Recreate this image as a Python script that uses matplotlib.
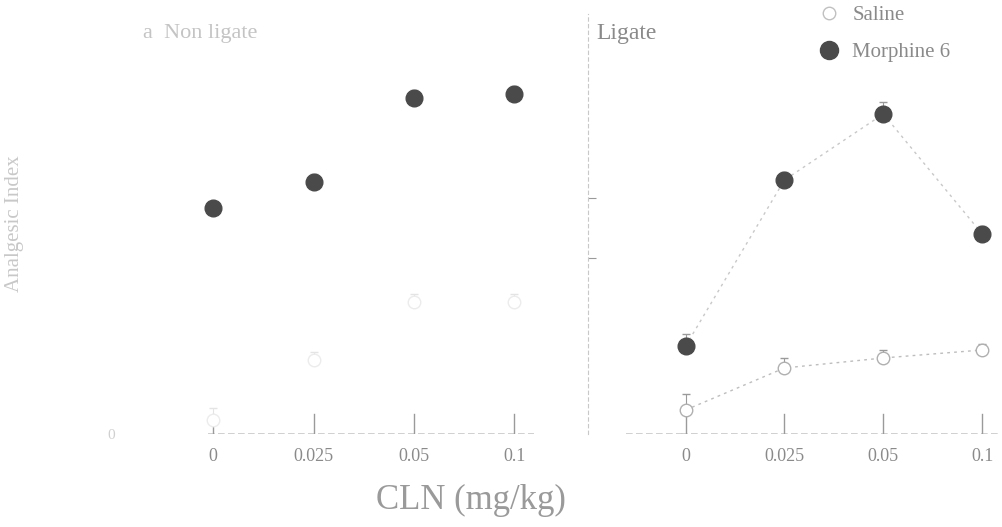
import matplotlib
matplotlib.use("Agg")
import matplotlib.pyplot as plt
from matplotlib.lines import Line2D
import numpy as np

plt.rcParams['font.family'] = ['Liberation Serif', 'DejaVu Serif']

doses = ["0", "0.025", "0.05", "0.1"]
xpos = np.arange(len(doses))

# non ligated panel
nl_morphine = [0.565, 0.63, 0.84, 0.85]
nl_morphine_err = [0.015, 0.02, 0.02, 0.02]
nl_saline = [0.035, 0.185, 0.33, 0.33]
nl_saline_err = [0.03, 0.02, 0.02, 0.02]

# ligated panel
l_morphine = [0.22, 0.635, 0.80, 0.50]
l_morphine_err = [0.03, 0.02, 0.03, 0.02]
l_saline = [0.06, 0.165, 0.19, 0.21]
l_saline_err = [0.04, 0.025, 0.02, 0.015]

dark = "#4a4a4a"
faint = "#c8c8c8"
mid = "#9a9a9a"

fig = plt.figure(figsize=(10.03, 5.27), dpi=100)
ax1 = fig.add_axes([0.1196, 0.1765, 0.424, 0.797])
ax2 = fig.add_axes([0.586, 0.1765, 0.411, 0.797])

def style(ax, xl):
    ax.set_xlim(*xl)
    ax.set_ylim(0, 1.05)
    for s in ["top", "right", "bottom"]:
        ax.spines[s].set_visible(False)
    ax.set_xticks(xpos)
    ax.set_xticklabels(doses, fontsize=13, color="#8a8a8a")
    ax.tick_params(axis="x", length=0, pad=10)
    # baseline with upward ticks
    ax.plot([xpos[0] - 0.05, xpos[-1] + 0.2], [0, 0], color=faint, lw=1.2, ls=(0, (4, 2)))
    for x in xpos:
        ax.plot([x, x], [0, 0.05], color=mid, lw=1)

style(ax1, (-0.93, 3.31))
style(ax2, (-0.99, 3.18))
ax2.plot([-0.6, 0], [0, 0], color=faint, lw=1.2, ls=(0, (4, 2)))

ax1.spines["left"].set_visible(False)
ax1.set_yticks([0])
ax1.set_yticklabels(["0"], fontsize=11, color="#d0d0d0")
ax1.tick_params(axis="y", length=0)
ax1.set_ylabel("Analgesic Index", fontsize=15, color="#c8c8c8", labelpad=60)

ax2.spines["left"].set_color(faint)
ax2.spines["left"].set_linestyle((0, (3, 3)))
ax2.set_yticks([0.44, 0.59])
ax2.set_yticklabels([])
ax2.tick_params(axis="y", direction="in", length=6, color=mid)

# non ligated
ax1.errorbar(xpos, nl_saline, yerr=[np.zeros(4), nl_saline_err], fmt="o", mfc="white",
             mec="#ececec", ms=9, ecolor="#e4e4e4", capsize=3, elinewidth=0.8)
ax1.errorbar(xpos, nl_morphine, yerr=[np.zeros(4), nl_morphine_err], fmt="o", color=dark,
             ms=12, ecolor=mid, capsize=3, elinewidth=0.8)
ax1.text(-0.7, 1.0, "a  Non ligate", fontsize=16, color="#c4c4c4", va="center")

# ligated
ax2.errorbar(xpos, l_saline, yerr=[np.zeros(4), l_saline_err], fmt="o", mfc="white",
             mec="#b0b0b0", ms=9, ecolor=mid, capsize=3, elinewidth=0.8,
             ls=(0, (2, 3)), color="#bdbdbd", lw=1)
ax2.errorbar(xpos, l_morphine, yerr=[np.zeros(4), l_morphine_err], fmt="o", color=dark,
             ms=12, ecolor=mid, capsize=3, elinewidth=0.8)
ax2.plot(xpos, l_morphine, ls=(0, (2, 3)), color=faint, lw=1, zorder=0)
ax2.text(-0.9, 1.0, "Ligate", fontsize=17, color="#8a8a8a", va="center")

handles = [Line2D([], [], ls="none", marker="o", mfc="white", mec="#c0c0c0", ms=9),
           Line2D([], [], ls="none", marker="o", color=dark, ms=13)]
leg = ax2.legend(handles, ["Saline", "Morphine 6"], loc="upper left",
                 bbox_to_anchor=(0.51, 1.065), frameon=False, fontsize=15,
                 handlelength=1.2, handletextpad=0.5, labelspacing=0.85)
for t in leg.get_texts():
    t.set_color("#8a8a8a")

fig.text(0.47, 0.05, "CLN (mg/kg)", fontsize=25, color="#9a9a9a", ha="center", va="center")

fig.savefig("out.png", dpi=100, facecolor="white")
